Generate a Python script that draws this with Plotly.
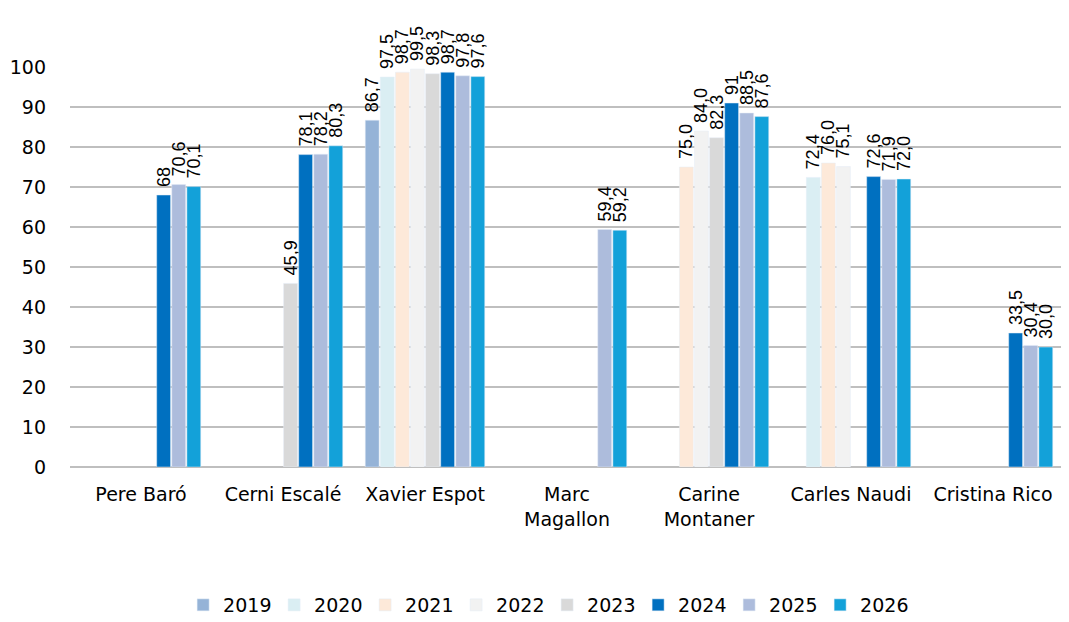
import plotly.graph_objects as go

categories = ["Pere Baró", "Cerni Escalé", "Xavier Espot", "Marc<br>Magallon",
              "Carine<br>Montaner", "Carles Naudi", "Cristina Rico"]
years = ["2019", "2020", "2021", "2022", "2023", "2024", "2025", "2026"]

v2019 = [None, None, 86.7, None, None, None, None]
v2020 = [None, None, 97.5, None, None, 72.4, None]
v2021 = [None, None, 98.7, None, 75.0, 76.0, None]
v2022 = [None, None, 99.5, None, 84.0, 75.1, None]
v2023 = [None, 45.9, 98.3, None, 82.3, None, None]
v2024 = [68.0, 78.1, 98.7, None, 91.0, 72.6, 33.5]
v2025 = [70.6, 78.2, 97.8, 59.4, 88.5, 71.9, 30.4]
v2026 = [70.1, 80.3, 97.6, 59.2, 87.6, 72.0, 30.0]

series = [v2019, v2020, v2021, v2022, v2023, v2024, v2025, v2026]
colors = ["#95B3D7", "#DAEEF3", "#FDE9D9", "#F2F2F2", "#D9D9D9", "#0070C0", "#ADBCDC", "#13A1D9"]

# values shown as integers in the source labels
integer_labels = {("2024", 0), ("2024", 4)}

def fmt(v, year, i):
    if v is None:
        return ""
    if (year, i) in integer_labels:
        return " " + str(int(round(v)))
    return " " + f"{v:.1f}".replace(".", ",")

FONT = "DejaVu Sans, Liberation Sans, Arial"
LABEL_FONT = "Liberation Sans, Arial"

fig = go.Figure()
for year, vals, col in zip(years, series, colors):
    fig.add_trace(go.Bar(
        name=year, x=categories, y=vals, marker_color=col,
        text=[fmt(v, year, i) for i, v in enumerate(vals)],
        textposition="outside", textangle=-90, cliponaxis=False,
        constraintext="none",
        textfont=dict(size=18, color="#000000", family=LABEL_FONT),
    ))

fig.update_layout(
    barmode="group", bargap=0.15, bargroupgap=0.08,
    width=1061, height=614,
    margin=dict(l=62, r=5, t=59, b=155, autoexpand=False),
    paper_bgcolor="white", plot_bgcolor="white",
    font=dict(family=FONT, size=19, color="#000000"),
    legend=dict(orientation="h", x=0.48, xanchor="center", y=-0.345, yanchor="middle",
                font=dict(size=19), traceorder="normal",
                entrywidth=46, entrywidthmode="pixels"),
    yaxis=dict(range=[0, 100], dtick=10, showgrid=True, gridcolor="#BFBFBF", gridwidth=2,
               zeroline=True, zerolinecolor="#BFBFBF", zerolinewidth=2,
               tickfont=dict(size=19), ticks="", ticklabelstandoff=23),
    xaxis=dict(showgrid=False, tickfont=dict(size=19), showline=False, ticks="",
               ticklabelstandoff=14),
)

fig.write_html("out.html")
